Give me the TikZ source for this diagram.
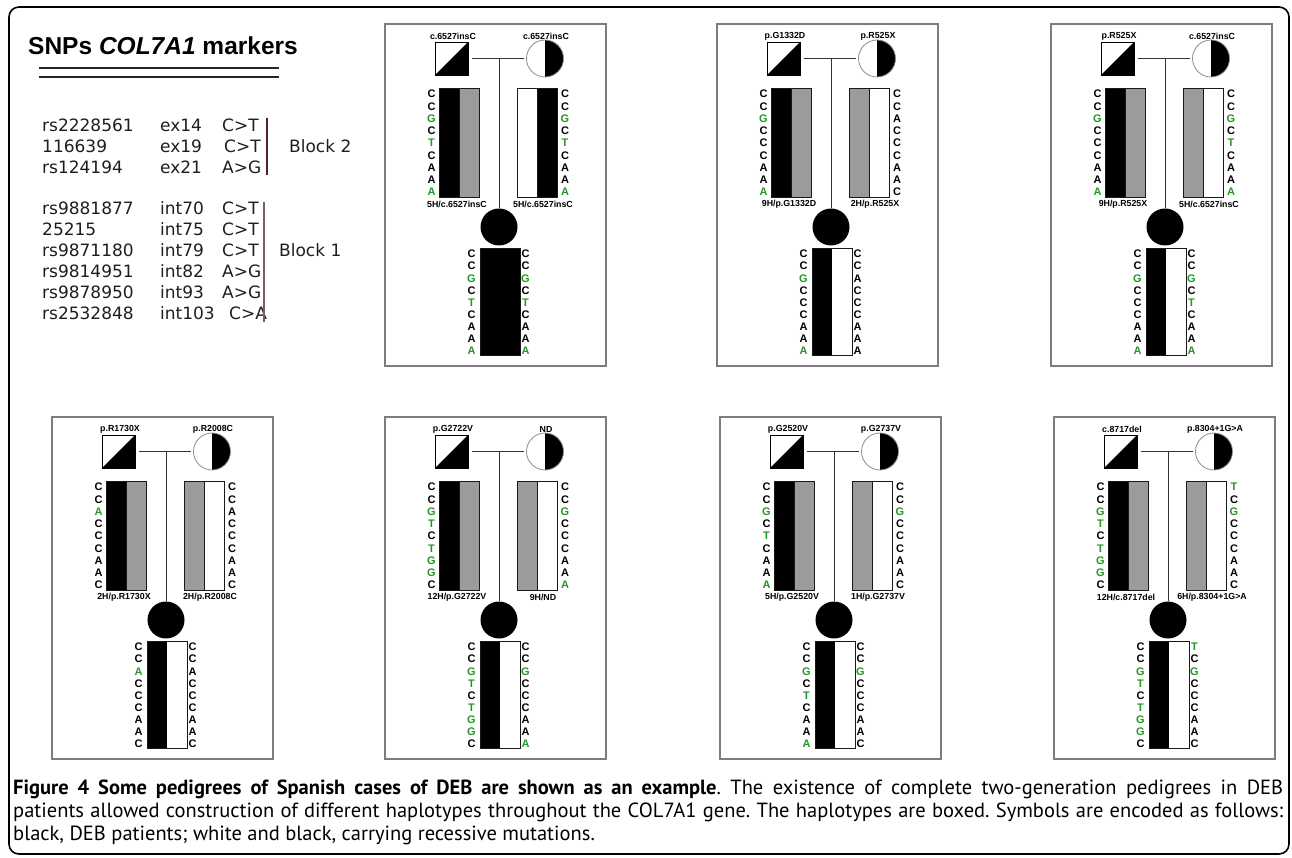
\documentclass[tikz,border=0pt]{standalone}
\usepackage{fontspec}
\setmainfont{Liberation Sans}
\newfontfamily\policesnp{DejaVu Sans}
\newfontfamily\policelegende{PT Sans}
\frenchspacing

\definecolor{vertsnp}{RGB}{38,150,38}
\definecolor{grishap}{RGB}{155,155,155}
\definecolor{griscadre}{RGB}{125,125,125}
\definecolor{bloca}{RGB}{80,35,35}
\definecolor{blocb}{RGB}{125,95,95}
\definecolor{textesnp}{RGB}{30,30,30}

\newcommand{\vrt}[1]{\textcolor{vertsnp}{#1}}

\tikzset{
  cadre/.style={draw=griscadre, line width=1.3pt},
  pere/.style={rectangle, draw, line width=0.8pt, minimum size=33pt, inner sep=0pt,
    path picture={\fill[black] (path picture bounding box.south west) -- (path picture bounding box.north east) -- (path picture bounding box.south east) -- cycle;}},
  mere/.style={circle, draw=black!45, line width=0.8pt, minimum size=37pt, inner sep=0pt,
    path picture={\fill[black] (path picture bounding box.north) rectangle (path picture bounding box.south east);}},
  enfant/.style={circle, fill=black, minimum size=37pt, inner sep=0pt},
  lien/.style={draw=black!80, line width=1pt},
  mut/.style={font=\bfseries\fontsize{8.8}{9}\selectfont, inner sep=0pt},
  lettre/.style={font=\bfseries\fontsize{11}{11}\selectfont, inner sep=0pt},
  barre/.style={draw=black!90, line width=0.7pt},
  snp/.style={anchor=west, inner sep=0pt, text=textesnp, font=\policesnp\fontsize{17}{17}\selectfont},
  legende/.style={anchor=base west, inner sep=0pt, font=\policelegende\fontsize{20.5}{22}\selectfont},
}

% Arbre : nom, x, y, mutation pere, mutation mere, haplotype pere, haplotype mere, barre mere, barre enfant
\newcommand{\pedigree}[9]{%
\begin{scope}[shift={(#2,#3)}]
  \draw[cadre] (0,0) rectangle (221,342);
  \node[pere] (#1-pere) at (66.5,34.5) {};
  \node[mere] (#1-mere) at (160,34.5) {};
  \node[enfant] (#1-enfant) at (114,203) {};
  \node[mut] (#1-mp) at (68,12) {#4};
  \node[mut] (#1-mm) at (161,12) {#5};
  \coordinate (#1-union) at (114,34.5);
  \draw[lien] ([xshift=4pt]#1-pere.east) -- ([xshift=-2pt]#1-mere.west);
  \draw[lien] (#1-union) -- (#1-enfant.north);
  % haplotypes des parents et de l'enfant
  \filldraw[barre, fill=black] (54,64) rectangle (74,173);
  \filldraw[barre, fill=grishap] (74,64) rectangle (94,173);
  \foreach \a/\b in {#8} {
    \filldraw[barre, fill=\a] (132,64) rectangle (152,173);
    \filldraw[barre, fill=\b] (152,64) rectangle (172,173);}
  \foreach \a/\b in {#9} {
    \fill[\a] (95,224) rectangle (115,331);
    \fill[\b] (115,224) rectangle (135,331);
    \draw[barre] (95,224) rectangle (135,331);}
  \node[mut] (#1-hp) at (72,180) {#6};
  \node[mut] (#1-hm) at (158,180) {#7};
\end{scope}}

% Allèles : nom, x, y, pere, mere, enfant gauche, enfant droite
\newcommand{\sequences}[7]{%
\begin{scope}[shift={(#2,#3)}]
  \foreach \l [count=\i] in {#4} \node[lettre] (#1-p\i) at (46.5,57.75+12.25*\i) {\l};
  \foreach \l [count=\i] in {#5} \node[lettre] (#1-m\i) at (180,57.75+12.25*\i) {\l};
  \foreach \l [count=\i] in {#6} \node[lettre] (#1-g\i) at (86.5,217.85+12.15*\i) {\l};
  \foreach \l [count=\i] in {#7} \node[lettre] (#1-d\i) at (140.5,217.85+12.15*\i) {\l};
\end{scope}}

\begin{document}
\begin{tikzpicture}[x=1pt, y=-1pt]
  \useasboundingbox (0,0) rectangle (1292,858);
  % Cadre général
  \draw[line width=1.6pt, rounded corners=10pt] (9,7) rectangle (1289,854);

  % Marqueurs SNP
  \node[anchor=base west, inner sep=0pt, font=\bfseries\fontsize{24.5}{26}\selectfont] (titre) at (28,55) {SNPs \textit{COL7A1} markers};
  \draw[line width=2pt, black!85] (39,68.5) -- (279,68.5);
  \draw[line width=2pt, black!85] (39,77.5) -- (279,77.5);
  \foreach \id/\pos/\sub/\xs [count=\i] in {rs2228561/ex14/C>T/222, 116639/ex19/C>T/224, rs124194/ex21/A>G/222} {
    \node[snp] (b2-id\i) at (42,104+21*\i) {\id};
    \node[snp] (b2-pos\i) at (160,104+21*\i) {\pos};
    \node[snp] (b2-sub\i) at (\xs,104+21*\i) {\sub};}
  \foreach \id/\pos/\sub/\xs [count=\i] in {rs9881877/int70/C>T/222, 25215/int75/C>T/222, rs9871180/int79/C>T/222,
      rs9814951/int82/A>G/222, rs9878950/int93/A>G/222, rs2532848/int103/C>A/229} {
    \node[snp] (b1-id\i) at (42,187+21*\i) {\id};
    \node[snp] (b1-pos\i) at (160,187+21*\i) {\pos};
    \node[snp] (b1-sub\i) at (\xs,187+21*\i) {\sub};}
  \draw[bloca, line width=2.4pt] (267,118) -- (267,175);
  \draw[blocb, line width=2.4pt] (264,202) -- (264,322);
  \node[snp] (bloc2) at (289,146) {Block 2};
  \node[snp] (bloc1) at (279,250) {Block 1};

  % Arbres de la première rangée
  \pedigree{a}{385}{24}{c.6527insC}{c.6527insC}{5H/c.6527insC}{5H/c.6527insC}{white/black}{black/black}
  \sequences{a}{385}{24}{C,C,\vrt{G},C,\vrt{T},C,A,A,\vrt{A}}{C,C,\vrt{G},C,\vrt{T},C,A,A,\vrt{A}}{C,C,\vrt{G},C,\vrt{T},C,A,A,\vrt{A}}{C,C,\vrt{G},C,\vrt{T},C,A,A,\vrt{A}}
  \pedigree{b}{717}{24}{p.G1332D}{p.R525X}{9H/p.G1332D}{2H/p.R525X}{grishap/white}{black/white}
  \sequences{b}{717}{24}{C,C,\vrt{G},C,C,C,A,A,\vrt{A}}{C,C,A,C,C,C,A,A,C}{C,C,\vrt{G},C,C,C,A,A,\vrt{A}}{C,C,A,C,C,C,A,A,A}
  \pedigree{c}{1051}{24}{p.R525X}{c.6527insC}{9H/p.R525X}{5H/c.6527insC}{grishap/white}{black/white}
  \sequences{c}{1051}{24}{C,C,\vrt{G},C,C,C,A,A,\vrt{A}}{C,C,\vrt{G},C,\vrt{T},C,A,A,\vrt{A}}{C,C,\vrt{G},C,C,C,A,A,\vrt{A}}{C,C,\vrt{G},C,\vrt{T},C,A,A,\vrt{A}}

  % Arbres de la deuxième rangée
  \pedigree{d}{52}{417}{p.R1730X}{p.R2008C}{2H/p.R1730X}{2H/p.R2008C}{grishap/white}{black/white}
  \sequences{d}{52}{417}{C,C,\vrt{A},C,C,C,A,A,C}{C,C,A,C,C,C,A,A,C}{C,C,\vrt{A},C,C,C,A,A,C}{C,C,A,C,C,C,A,A,C}
  \pedigree{e}{385}{417}{p.G2722V}{ND}{12H/p.G2722V}{9H/ND}{grishap/white}{black/white}
  \sequences{e}{385}{417}{C,C,\vrt{G},\vrt{T},C,\vrt{T},\vrt{G},\vrt{G},C}{C,C,\vrt{G},C,C,C,A,A,\vrt{A}}{C,C,\vrt{G},\vrt{T},C,\vrt{T},\vrt{G},\vrt{G},C}{C,C,\vrt{G},C,C,C,A,A,\vrt{A}}
  \pedigree{f}{720}{417}{p.G2520V}{p.G2737V}{5H/p.G2520V}{1H/p.G2737V}{grishap/white}{black/white}
  \sequences{f}{720}{417}{C,C,\vrt{G},C,\vrt{T},C,A,A,\vrt{A}}{C,C,\vrt{G},C,C,C,A,A,C}{C,C,\vrt{G},C,\vrt{T},C,A,A,\vrt{A}}{C,C,\vrt{G},C,C,C,A,A,C}
  \pedigree{g}{1054}{417}{c.8717del}{p.8304+1G>A}{12H/c.8717del}{6H/p.8304+1G>A}{grishap/white}{black/white}
  \sequences{g}{1054}{417}{C,C,\vrt{G},\vrt{T},C,\vrt{T},\vrt{G},\vrt{G},C}{\vrt{T},C,\vrt{G},C,C,C,A,A,C}{C,C,\vrt{G},\vrt{T},C,\vrt{T},\vrt{G},\vrt{G},C}{\vrt{T},C,\vrt{G},C,C,C,A,A,C}

  % Légende de la figure
  \node[legende] (cap1) at (13,794) {\makebox[1270pt][s]{\textbf{Figure 4 Some pedigrees of Spanish cases of DEB are shown as an example}. The existence of complete two-generation pedigrees in DEB}};
  \node[legende] (cap2) at (13,817) {\makebox[1270pt][s]{patients allowed construction of different haplotypes throughout the COL7A1 gene. The haplotypes are boxed. Symbols are encoded as follows:}};
  \node[legende] (cap3) at (13,840) {black, DEB patients; white and black, carrying recessive mutations.};
\end{tikzpicture}
\end{document}
